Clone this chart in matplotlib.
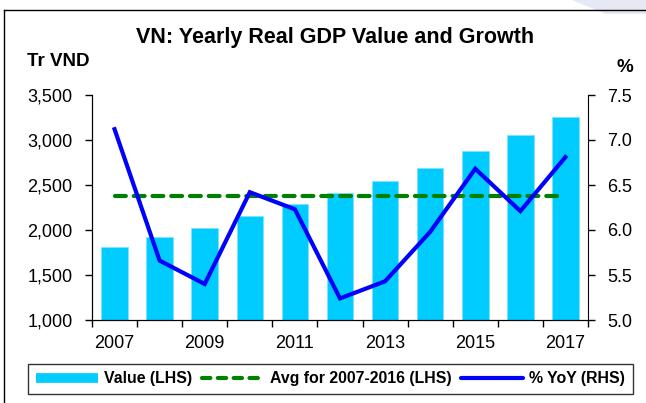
import numpy as np
import matplotlib
matplotlib.use('Agg')
import matplotlib.pyplot as plt
from matplotlib.lines import Line2D
from matplotlib.patches import Polygon
from matplotlib.ticker import StrMethodFormatter

plt.rcParams['font.family'] = ['Liberation Sans', 'DejaVu Sans']

# Data
years = [2007, 2008, 2009, 2010, 2011, 2012, 2013, 2014, 2015, 2016, 2017]
gdp_value = [1814, 1919, 2022, 2156, 2289, 2408, 2541, 2689, 2874, 3052, 3259]  # Tr VND
yoy_growth = [7.12, 5.66, 5.40, 6.42, 6.23, 5.24, 5.43, 5.98, 6.68, 6.21, 6.81]  # %
avg_value = 2378  # avg for 2007-2016
year_labels = ['2007', '', '2009', '', '2011', '', '2013', '', '2015', '', '2017']

W, H = 646, 403
fig = plt.figure(figsize=(W / 100, H / 100), dpi=100)

# frame and corner decoration
fig.add_artist(Polygon([[572 / W, 1], [1, 1], [1, 1 - 14 / H], [606 / W, 1 - 14 / H]],
                       closed=True, transform=fig.transFigure, facecolor='#e6e8f4', edgecolor='none'))
fig.add_artist(Line2D([3.5 / W, 3.5 / W], [0, 1 - 10 / H], color='black', lw=1, transform=fig.transFigure))
fig.add_artist(Line2D([3.5 / W, 1], [1 - 10 / H, 1 - 10 / H], color='black', lw=1, transform=fig.transFigure))

ax = fig.add_axes([92 / W, 1 - 320 / H, 496 / W, 225 / H])
x = np.arange(len(years))

ax.bar(x, gdp_value, width=0.59, color='#00ccff', edgecolor='#7fe3ff', linewidth=0.6, zorder=2)
ax.plot([x[0], x[-1]], [avg_value, avg_value], color='#008000', lw=3,
        dashes=(2.6, 1.9), dash_capstyle='round', zorder=3)

ax.set_xlim(-0.5, len(years) - 0.5)
ax.set_ylim(1000, 3500)
ax.set_yticks(np.arange(1000, 3501, 500))
ax.yaxis.set_major_formatter(StrMethodFormatter('{x:,.0f}'))
ax.set_xticks(x)
ax.set_xticklabels(year_labels)
ax.set_xticks(np.arange(-0.5, len(years)), minor=True)
ax.tick_params(axis='x', which='major', length=0, pad=11, labelsize=13)
ax.tick_params(axis='x', which='minor', length=5, direction='out', width=1)
ax.tick_params(axis='y', length=5, direction='out', width=1, pad=9, labelsize=13)
ax.spines['top'].set_visible(False)
ax.spines['right'].set_visible(False)

ax2 = ax.twinx()
ax2.plot(x, yoy_growth, color='#0000ff', lw=3, solid_joinstyle='miter', zorder=4)
ax2.set_ylim(5.0, 7.5)
ax2.set_yticks(np.arange(5.0, 7.51, 0.5))
ax2.yaxis.set_major_formatter(StrMethodFormatter('{x:.1f}'))
ax2.tick_params(axis='y', length=5, direction='out', width=1, pad=9, labelsize=13)
ax2.spines['top'].set_visible(False)

fig.text(335 / W, 1 - 37 / H, 'VN: Yearly Real GDP Value and Growth', ha='center', va='center',
         fontsize=15.5, fontweight='bold')
fig.text(27 / W, 1 - 61 / H, 'Tr VND', ha='left', va='center', fontsize=13.5, fontweight='bold')
fig.text(625 / W, 1 - 68 / H, '%', ha='center', va='center', fontsize=13.5, fontweight='bold')

handles = [
    Line2D([], [], color='#00ccff', lw=7, solid_capstyle='butt'),
    Line2D([], [], color='#008000', lw=3, dashes=(2.0, 1.8), dash_capstyle='round'),
    Line2D([], [], color='#0000ff', lw=3, solid_capstyle='round'),
]
labels = ['Value (LHS)', 'Avg for 2007-2016 (LHS)', '% YoY (RHS)']
leg = fig.legend(handles, labels, loc='center', ncol=3, mode='expand',
                 bbox_to_anchor=(20 / W, 1 - 395 / H, 621 / W, 32 / H),
                 bbox_transform=fig.transFigure, frameon=True, fancybox=False,
                 edgecolor='black', handlelength=3.9, handletextpad=0.4,
                 borderpad=0.5, prop={'weight': 'bold', 'size': 11.4})
leg.get_frame().set_linewidth(1)

fig.savefig('out.png', dpi=100)
